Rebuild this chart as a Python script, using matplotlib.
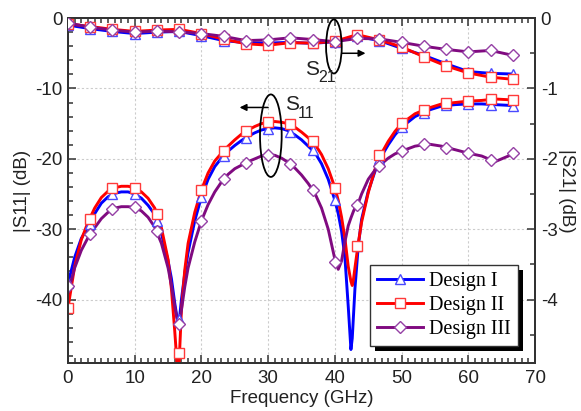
import matplotlib
matplotlib.use("Agg")
import matplotlib.pyplot as plt
from matplotlib.lines import Line2D
from matplotlib.patches import Ellipse, Rectangle
from matplotlib.ticker import MultipleLocator

plt.rcParams["font.family"] = ["Liberation Sans", "DejaVu Sans"]
plt.rcParams["axes.unicode_minus"] = False

# frequencies (GHz) where the markers sit
f_mk = [0, 3.33, 6.67, 10, 13.33, 16.67, 20, 23.33, 26.67, 30, 33.33, 36.67,
        40, 43.33, 46.67, 50, 53.33, 56.67, 60, 63.33, 66.67]

# |S11| traces (dB)
f11 = [0, 1, 2, 3, 4, 5, 6, 7, 8, 9, 10, 11, 12, 13, 14, 15,
       15.5, 16, 16.3, 16.5, 16.7, 17, 17.5, 18,
       19, 20, 21, 22, 23, 24, 25, 26, 27, 28, 29, 30, 31, 32, 33, 34, 35, 36, 37, 38, 39, 40,
       40.5, 41, 41.5, 42, 42.4, 42.6, 42.8, 43, 43.5, 44,
       45, 46, 47, 48, 49, 50,
       52, 54, 56, 58, 60, 62, 64, 66, 67]
s11_d1 = [-37.7, -34.0, -31.3, -29.7, -27.8, -26.3, -25.4, -24.9, -24.7, -24.7, -25.0, -25.6, -26.6, -27.9, -30.6, -34.5,
          -37.0, -40.5, -42.3, -43.3, -42.8, -40.0, -36.3, -33.3,
          -28.8, -25.4, -22.9, -21.1, -19.9, -18.9, -18.1, -17.4, -16.8, -16.3, -15.9, -15.7, -15.6, -15.7, -16.0, -16.6, -17.3, -18.2, -19.1, -20.7, -22.9, -25.9,
          -27.8, -30.3, -34.0, -41.0, -47.1, -45.5, -42.0, -38.5, -32.4, -28.6,
          -24.6, -21.8, -19.6, -18.0, -16.6, -15.5,
          -14.0, -13.1, -12.5, -12.3, -12.2, -12.2, -12.3, -12.4, -12.5]
s11_d2 = [-41.2, -35.3, -31.5, -29.0, -27.0, -25.5, -24.6, -24.1, -23.9, -23.9, -24.1, -24.7, -25.6, -27.0, -29.8, -34.3,
          -38.5, -44.5, -48.5, -56.0, -48.0, -41.5, -35.8, -32.0,
          -27.6, -24.4, -22.0, -20.3, -19.2, -18.2, -17.3, -16.5, -15.9, -15.4, -15.0, -14.8, -14.7, -14.8, -15.0, -15.5, -16.2, -17.0, -17.9, -19.4, -21.4, -24.1,
          -25.9, -28.3, -31.3, -35.3, -37.4, -38.0, -37.0, -35.5, -32.0, -29.0,
          -24.8, -21.5, -19.2, -17.5, -16.1, -15.0,
          -13.6, -12.8, -12.2, -12.0, -11.8, -11.7, -11.5, -11.6, -11.6]
s11_d3 = [-39.0, -35.5, -33.0, -31.2, -29.8, -28.5, -27.6, -27.0, -26.8, -26.8, -26.9, -27.4, -28.3, -29.7, -32.0, -35.5,
          -38.0, -41.0, -42.5, -43.2, -43.2, -41.5, -38.2, -35.5,
          -31.8, -28.8, -26.5, -24.7, -23.3, -22.2, -21.4, -20.9, -20.4, -20.0, -19.6, -19.4, -19.5, -19.9, -20.5, -21.3, -22.3, -23.5, -24.9, -27.0, -30.0, -34.3,
          -35.7, -34.5, -31.8, -29.5, -28.4, -27.9, -27.4, -27.0, -26.3, -25.0,
          -22.9, -21.6, -20.7, -19.9, -19.3, -18.9,
          -18.2, -17.9, -18.2, -18.7, -19.2, -19.6, -20.4, -19.6, -19.1]

# |S11| marker values (dB)
m11_d1 = [-37.7, -29.3, -25.0, -25.0, -28.8, -42.8, -25.4, -19.6, -17.0, -15.7, -16.2, -18.7,
          -25.9, -32.4, -20.0, -15.5, -13.5, -12.3, -12.2, -12.3, -12.5]
m11_d2 = [-41.2, -28.5, -24.2, -24.1, -27.8, -47.6, -24.4, -18.9, -16.0, -14.75, -15.1, -17.45,
          -24.1, -32.4, -19.5, -14.95, -13.05, -12.1, -11.8, -11.5, -11.6]
m11_d3 = [-38.1, -30.7, -27.1, -26.9, -30.2, -43.4, -28.8, -22.9, -20.6, -19.4, -20.7, -24.4,
          -34.7, -26.6, -21.05, -18.9, -17.9, -18.4, -19.2, -20.2, -19.2]

# |S21| (dB), right axis, at the marker frequencies
s21_d1 = [-0.10, -0.15, -0.19, -0.22, -0.20, -0.19, -0.25, -0.32, -0.35, -0.355, -0.345, -0.36,
          -0.335, -0.26, -0.32, -0.43, -0.53, -0.65, -0.76, -0.785, -0.795]
s21_d2 = [-0.08, -0.12, -0.16, -0.19, -0.17, -0.16, -0.22, -0.30, -0.365, -0.385, -0.35, -0.355,
          -0.33, -0.235, -0.31, -0.41, -0.55, -0.68, -0.78, -0.84, -0.87]
s21_d3 = [-0.07, -0.13, -0.17, -0.20, -0.185, -0.195, -0.22, -0.26, -0.32, -0.31, -0.28, -0.305,
          -0.335, -0.29, -0.295, -0.345, -0.40, -0.445, -0.48, -0.46, -0.53]

labels = ["Design I", "Design II", "Design III"]
colors = ["#0000ff", "#ff0000", "#800a80"]
edges = ["#4a4aff", "#ff3a3a", "#9540a5"]
markers = ["^", "s", "D"]
msizes = [7, 6.5, 6]

fig = plt.figure(figsize=(5.81, 4.11), dpi=100)
ax = fig.add_axes([0.117, 0.117, 0.804, 0.839])
ax2 = ax.twinx()
ax2.set_zorder(1)

lw = 2.1
mk = dict(ls="none", mfc="white", mew=1.0, zorder=3)
for s11, m11, s21, c, e, mkr, ms in zip([s11_d1, s11_d2, s11_d3], [m11_d1, m11_d2, m11_d3],
                                        [s21_d1, s21_d2, s21_d3], colors, edges, markers, msizes):
    ax.plot(f11, s11, color=c, lw=lw, zorder=2)
    ax.plot(f_mk, m11, marker=mkr, ms=ms, mec=e, **mk)
    ax2.plot(f_mk, s21, color=c, lw=lw, zorder=2)
    ax2.plot(f_mk, s21, marker=mkr, ms=ms, mec=e, **mk)

ax.set_xlim(0, 70)
ax.set_ylim(-49, 0)
ax2.set_ylim(-4.9, 0)

ax.xaxis.set_major_locator(MultipleLocator(10))
ax.xaxis.set_minor_locator(MultipleLocator(1))
ax.yaxis.set_major_locator(MultipleLocator(10))
ax.yaxis.set_minor_locator(MultipleLocator(2))
ax2.yaxis.set_major_locator(MultipleLocator(1))
ax2.yaxis.set_minor_locator(MultipleLocator(0.5))

tc = "#222222"
ax.tick_params(which="both", direction="in", top=True, right=False, colors="#333333",
               labelcolor=tc, labelsize=13.5, width=1.1)
ax.tick_params(which="major", length=6)
ax.tick_params(which="minor", length=3.5)
ax.tick_params(axis="x", pad=5)
ax.tick_params(axis="y", pad=4)
ax2.tick_params(which="both", direction="in", colors="#333333", labelcolor=tc,
                labelsize=13.5, width=1.1, pad=4)
ax2.tick_params(which="major", length=6)
ax2.tick_params(which="minor", length=3.5)
for a in (ax, ax2):
    for sp in a.spines.values():
        sp.set_linewidth(1.4)
        sp.set_color("#333333")

ax.grid(True, which="major", color="#cccccc", ls=(0, (2, 2)), lw=0.8, zorder=0)

ax.set_xlabel("Frequency (GHz)", fontsize=13.5, color=tc, labelpad=2)
ax.set_ylabel("|S11| (dB)", fontsize=13.5, color=tc, labelpad=3)
ax2.set_ylabel("|S21| (dB)", fontsize=13.5, color=tc, rotation=-90, va="bottom", labelpad=0)

# S11 / S21 callouts (right-axis data units)
ax2.add_patch(Ellipse((30.4, -1.671), 3.25, 1.172, fill=False, ec="black", lw=1.3, zorder=4))
ax2.annotate("", xy=(25.3, -1.27), xytext=(30.4, -1.27),
             arrowprops=dict(arrowstyle="-|>", color="black", lw=1.1, mutation_scale=10), zorder=4)
ax2.text(32.6, -1.31, "S", fontsize=15, color=tc, zorder=4)
ax2.text(34.4, -1.42, "11", fontsize=11.5, color=tc, zorder=4)

ax2.add_patch(Ellipse((39.85, -0.403), 2.35, 0.768, fill=False, ec="black", lw=1.3, zorder=4))
ax2.annotate("", xy=(45.0, -0.50), xytext=(40.6, -0.50),
             arrowprops=dict(arrowstyle="-|>", color="black", lw=1.1, mutation_scale=10), zorder=4)
ax2.text(35.6, -0.81, "S", fontsize=15, color=tc, zorder=4)
ax2.text(37.5, -0.91, "21", fontsize=11.5, color=tc, zorder=4)

handles = [Line2D([], [], color=c, lw=lw, marker=mkr, ms=ms, mfc="white", mec=e, mew=1.0)
           for c, e, mkr, ms in zip(colors, edges, markers, msizes)]
leg = ax2.legend(handles, labels, loc="lower right", bbox_to_anchor=(0.964, 0.049),
                 borderaxespad=0, fancybox=False, framealpha=1, edgecolor="#333333",
                 prop={"family": ["Liberation Serif", "DejaVu Serif"], "size": 14.5},
                 handlelength=2.3, handletextpad=0.3, borderpad=0.35, labelspacing=0.25)
leg.get_frame().set_linewidth(1.0)

# solid black drop shadow like the original legend
fig.canvas.draw()
bb = leg.get_window_extent().transformed(ax2.transAxes.inverted())
dx = 5 / ax2.bbox.width
dy = 5 / ax2.bbox.height
ax2.add_patch(Rectangle((bb.x0 + dx, bb.y0 - dy), bb.width, bb.height, transform=ax2.transAxes,
                        facecolor="black", edgecolor="none", zorder=4.9, clip_on=False))

fig.savefig("out.png", dpi=100)
